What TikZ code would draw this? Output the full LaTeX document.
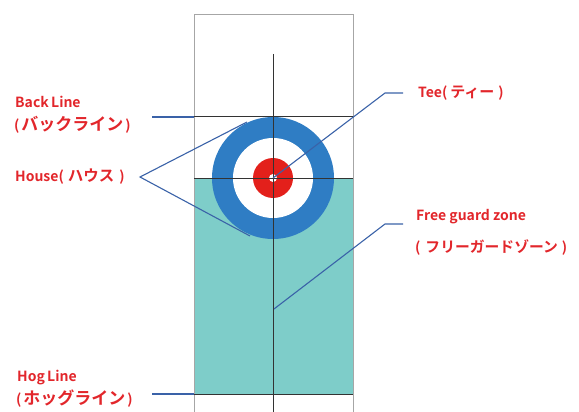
\documentclass[tikz,border=0pt]{standalone}
\usepackage{fontspec}
\setmainfont{Noto Sans CJK JP}[BoldFont={* Bold}]
\newcommand\jpsz[2]{{\fontsize{#1}{#1}\selectfont #2}}
\begin{document}
\begin{tikzpicture}[x=1pt,y=-1pt,
  lbl/.style={text=labred,font=\bfseries\fontsize{14}{15}\selectfont,anchor=west,inner sep=0pt},
  lead/.style={draw=leadblue,line width=1.1pt},
  sheetline/.style={draw=gray!70,line width=1pt},
  rinkline/.style={draw=black!80,line width=1pt}]
\definecolor{labred}{HTML}{E2262B}
\definecolor{leadblue}{HTML}{3A62A8}
\definecolor{ringblue}{HTML}{2F7DC4}
\definecolor{zoneteal}{HTML}{7ECDC9}
\definecolor{tred}{HTML}{E3201B}
\useasboundingbox (0,0) rectangle (579,412);
% sheet
\fill[zoneteal] (194,178) rectangle (353,394);
\draw[sheetline] (194,412) -- (194,15) -- (353,15) -- (353,412);
% house
\fill[ringblue] (273,178) circle (61);
\fill[white] (273,178) circle (40);
\fill[tred] (273,178) circle (20);
\fill[white] (273,178) circle (4);
% lines
\coordinate (ctop) at (273,54);
\coordinate (cbot) at (273,412);
\draw[rinkline] (ctop) -- (cbot);
\draw[rinkline] (194,117) -- (353,117);
\draw[rinkline] (194,178) -- (353,178);
\draw[rinkline] (194,394) -- (353,394);
% labels
\node[lbl] (back) at (15,102) {Back\,Line};
\node[lbl] (backj) at (14,125) {(\kern2pt\jpsz{17}{バックライン}\kern2pt)};
\node[lbl] (house) at (15,177) {House(\kern4pt\jpsz{15.5}{ハウス}\kern5pt)};
\node[lbl] (tee) at (418,93) {Tee(\kern3pt\jpsz{15}{ティー}\kern4pt)};
\node[lbl] (fgz) at (416,217) {Free guard zone};
\node[lbl] (fgzj) at (415,247) {(\kern5pt\jpsz{14.8}{フリーガードゾーン}\kern4pt)};
\node[lbl] (hog) at (17,378) {Hog\,Line};
\node[lbl] (hogj) at (16,399) {(\kern2pt\jpsz{17}{ホッグライン}\kern2pt)};
% leaders
\coordinate (bl1) at (152,117); \coordinate (bl2) at (194,117);
\draw[lead] (bl1) -- (bl2);
\coordinate (hl1) at (152,394); \coordinate (hl2) at (194,394);
\draw[lead] (hl1) -- (hl2);
\coordinate (hapex) at (140,177);
\coordinate (hup) at (247,122); \coordinate (hdn) at (250,236);
\draw[lead] (hup) -- (hapex) -- (hdn);
\coordinate (tc) at (273,178); \coordinate (tb) at (385,93); \coordinate (te) at (403,93);
\draw[lead] (tc) -- (tb) -- (te);
\coordinate (fc) at (274,309); \coordinate (fb) at (385,224); \coordinate (fe) at (403,224);
\draw[lead] (fc) -- (fb) -- (fe);
\end{tikzpicture}
\end{document}
